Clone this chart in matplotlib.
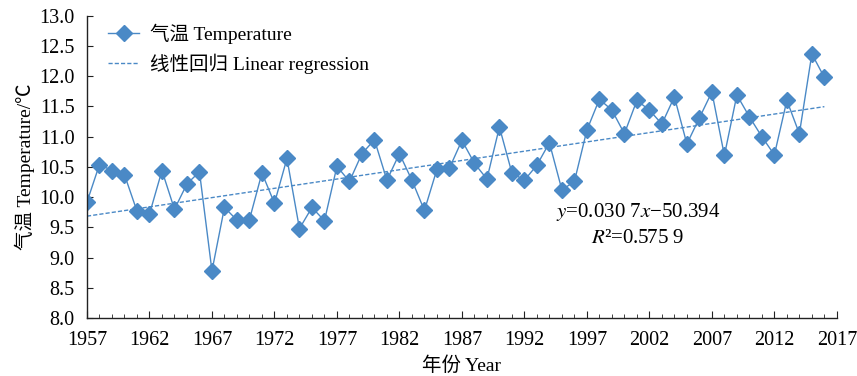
import numpy as np
import matplotlib.pyplot as plt
from matplotlib.ticker import MultipleLocator

plt.rcParams['font.family'] = ['Liberation Serif', 'Noto Sans CJK SC', 'DejaVu Sans']
plt.rcParams['mathtext.fontset'] = 'stix'

years = np.arange(1957, 2017)
temp = [9.92, 10.54, 10.44, 10.37, 9.77, 9.72, 10.44, 9.80, 10.22, 10.42,
        8.78, 9.83, 9.62, 9.63, 10.40, 9.90, 10.64, 9.48, 9.83, 9.61,
        10.51, 10.26, 10.72, 10.95, 10.28, 10.72, 10.28, 9.78, 10.46, 10.48,
        10.94, 10.56, 10.30, 11.16, 10.40, 10.28, 10.53, 10.90, 10.12, 10.26,
        11.11, 11.62, 11.44, 11.05, 11.60, 11.44, 11.21, 11.66, 10.88, 11.31,
        11.74, 10.69, 11.69, 11.33, 11.00, 10.70, 11.60, 11.05, 12.37, 11.98]
slope = 0.0307
intercept = -50.394

color = '#4a89c6'

fig = plt.figure(figsize=(8.57, 3.76), dpi=100)
ax = fig.add_axes([0.1015, 0.154, 0.875, 0.804])

ax.plot(years, temp, color=color, linewidth=1.0, marker='D', markersize=8,
        label='气温 Temperature')
trend = slope * years + intercept
ax.plot(years, trend, color=color, linewidth=1.0, linestyle=(0, (3, 1.5)),
        label='线性回归 Linear regression')

ax.set_xlim(1957, 2017)
ax.set_ylim(8.0, 13.0)
ax.set_xticks(np.arange(1957, 2018, 5))
ax.xaxis.set_minor_locator(MultipleLocator(1))
yt = np.arange(8.0, 13.01, 0.5)
ax.set_yticks(yt)
ax.set_yticklabels([f'{v:.1f}' for v in yt])
ax.tick_params(axis='both', which='both', direction='in', labelsize=14.5, color='#222222')
ax.tick_params(axis='x', which='major', length=5, pad=9)
ax.tick_params(axis='x', which='minor', length=3)
ax.tick_params(axis='y', which='major', length=4, pad=9)

for s in ['top', 'right']:
    ax.spines[s].set_visible(False)
for s in ['left', 'bottom']:
    ax.spines[s].set_color('#222222')
    ax.spines[s].set_linewidth(1.0)

ax.set_xlabel('年份 Year', fontsize=14, labelpad=5)
ax.set_ylabel('气温 Temperature/℃', fontsize=14, labelpad=3)

ax.legend(loc='upper left', frameon=False, fontsize=14, handlelength=1.6,
          handletextpad=0.55, borderaxespad=0.0, bbox_to_anchor=(0.018, 1.0),
          labelspacing=0.5)

ax.text(2001.1, 9.75, r'$y$=0.030 7$x$−50.394', fontsize=15, ha='center', va='center')
ax.text(2001.1, 9.32, r'$R$²=0.575 9', fontsize=15, ha='center', va='center')

fig.savefig('out.png', dpi=100)
